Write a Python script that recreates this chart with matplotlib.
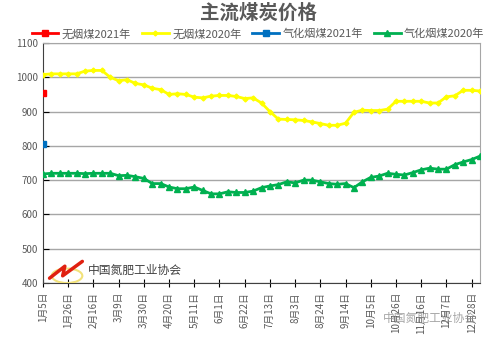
import numpy as np
import matplotlib
matplotlib.use("Agg")
from matplotlib import pyplot as plt
from matplotlib.patches import Ellipse

plt.rcParams['font.family'] = ['Noto Sans CJK SC', 'DejaVu Sans']

# datos semanales (53 semanas, desde 1月5日)
fechas = ["1月5日", "1月12日", "1月19日", "1月26日", "2月2日", "2月9日", "2月16日", "2月23日",
          "3月2日", "3月9日", "3月16日", "3月23日", "3月30日", "4月6日", "4月13日", "4月20日",
          "4月27日", "5月4日", "5月11日", "5月18日", "5月25日", "6月1日", "6月8日", "6月15日",
          "6月22日", "6月29日", "7月6日", "7月13日", "7月20日", "7月27日", "8月3日", "8月10日",
          "8月17日", "8月24日", "8月31日", "9月7日", "9月14日", "9月21日", "9月28日", "10月5日",
          "10月12日", "10月19日", "10月26日", "11月2日", "11月9日", "11月16日", "11月23日",
          "11月30日", "12月7日", "12月14日", "12月21日", "12月28日", "1月4日"]

wuyan_2021 = [955]
wuyan_2020 = [1008, 1010, 1010, 1010, 1010, 1018, 1020, 1020, 1000, 990, 993, 982, 978, 968,
              964, 950, 952, 950, 942, 940, 945, 947, 947, 944, 938, 940, 925, 900, 878, 877,
              876, 874, 870, 865, 860, 860, 866, 898, 904, 903, 903, 907, 930, 930, 930, 930,
              925, 925, 943, 946, 962, 962, 960]
qihua_2021 = [805]
qihua_2020 = [718, 720, 720, 720, 720, 719, 720, 720, 720, 713, 714, 710, 705, 690, 690, 680,
              675, 675, 680, 670, 660, 660, 666, 664, 664, 668, 678, 683, 687, 695, 692, 700,
              700, 695, 690, 688, 690, 678, 695, 708, 712, 720, 717, 715, 722, 730, 735, 732,
              732, 745, 753, 760, 770]

x = np.arange(len(fechas))

fig = plt.figure(figsize=(5.01, 3.42), dpi=100)
ax = fig.add_axes([43/501, 1-283/342, (480-43)/501, (283-43)/342])

ax.plot(x, wuyan_2020, color="#FFFF00", lw=2, marker="D", ms=2.5, label="无烟煤2020年", zorder=3)
ax.plot(x, qihua_2020, color="#00B050", lw=2, marker="^", ms=4, label="气化烟煤2020年", zorder=3)
ax.plot(x[:1], wuyan_2021, color="#FF0000", lw=2, marker="s", ms=4, label="无烟煤2021年", zorder=4)
ax.plot(x[:1], qihua_2021, color="#0070C0", lw=2, marker="s", ms=4, label="气化烟煤2021年", zorder=4)

ax.set_xlim(0, len(fechas)-1)
ax.set_ylim(400, 1100)
ax.set_yticks(range(400, 1101, 100))
ax.set_xticks(x[::3])
ax.set_xticklabels(fechas[::3], rotation=90, fontsize=7, color="#595959")
ax.tick_params(axis="y", labelsize=7, labelcolor="#595959", length=4, direction="in")
ax.tick_params(axis="x", length=6, direction="inout")
ax.grid(axis="y", color="#A6A6A6", lw=1)
ax.set_axisbelow(True)
for s in ["top", "right"]:
    ax.spines[s].set_color("#A6A6A6")
ax.spines["left"].set_color("#404040")
ax.spines["bottom"].set_color("#404040")

# orden de la leyenda
h, l = ax.get_legend_handles_labels()
orden = [2, 0, 3, 1]
fig.legend([h[i] for i in orden], [l[i] for i in orden], loc="center", bbox_to_anchor=(0.515, 1-34/342),
           ncol=4, frameon=False, fontsize=8, handlelength=2.4, columnspacing=1.0, handletextpad=0.3,
           labelcolor="#595959")

fig.text(0.515, 1-13/342, "主流煤炭价格", ha="center", va="center", fontsize=14, fontweight="bold",
         color="#595959")

# logo y marcas de agua
ax.add_patch(Ellipse((0.055, 0.03), 0.07, 0.06, transform=ax.transAxes, fill=False,
                     edgecolor="#F2E27A", lw=1.5, zorder=5))
ax.plot([0.015, 0.05, 0.045, 0.09], [0.02, 0.07, 0.03, 0.09], transform=ax.transAxes,
        color="#E02010", lw=2.5, solid_capstyle="round", zorder=6)
fig.text(88/501, 1-270/342, "中国氮肥工业协会", fontsize=8.5, color="#404040", va="center")
fig.text(383/501, 1-318/342, "中国氮肥工业协会", fontsize=8.5, color="#909090", va="center", alpha=0.8)

fig.savefig("out.png", dpi=100)
